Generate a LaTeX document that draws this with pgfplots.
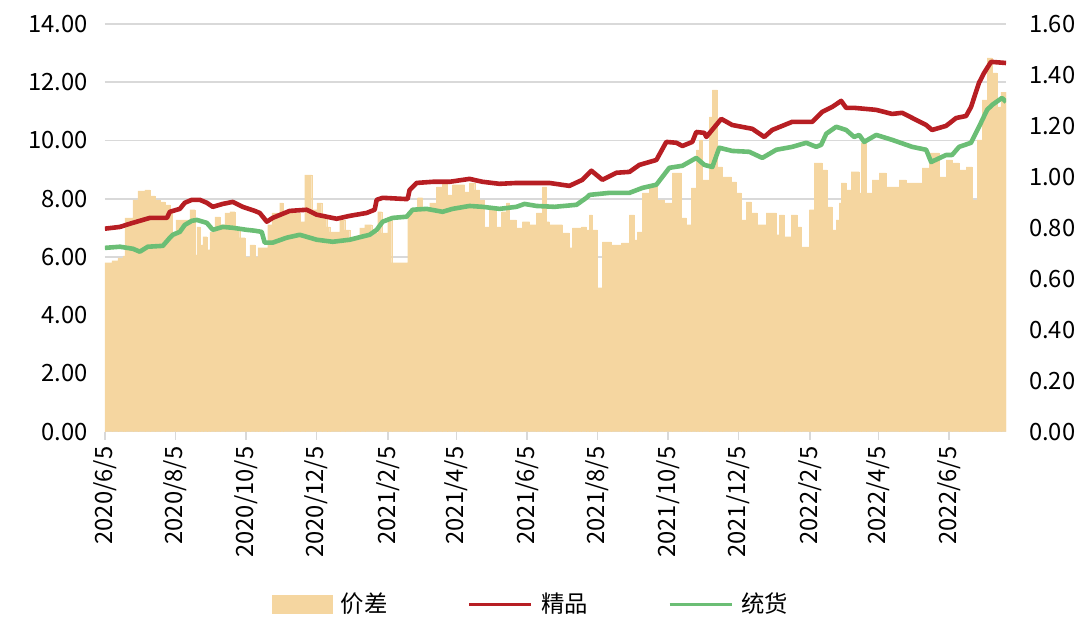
\documentclass[border=0pt]{standalone}
\usepackage{fontspec}
\setmainfont{Noto Sans CJK SC}
\usepackage{pgfplots}
\pgfplotsset{compat=1.18}
\usepackage{pgfplotstable}
\definecolor{barcol}{RGB}{245,214,160}
\definecolor{redcol}{RGB}{183,30,35}
\definecolor{greencol}{RGB}{107,190,117}
\definecolor{gridgray}{RGB}{217,217,217}

\pgfplotstableread{
x y
0 6.97
13.0 7.03
21.6 7.14
32.8 7.27
38.9 7.34
53.6 7.34
56.2 7.55
64.8 7.65
69.1 7.86
75.2 7.96
82.1 7.96
88.1 7.86
93.3 7.72
101.9 7.82
110.6 7.89
119.2 7.72
129.6 7.58
133.9 7.51
140.0 7.21
145.1 7.34
159.8 7.58
174.5 7.62
183.2 7.45
200.4 7.31
211.7 7.41
226.3 7.51
233.3 7.62
235.0 7.96
240.2 8.03
259.2 7.99
261.8 7.99
263.5 8.30
269.5 8.54
283.4 8.58
298.1 8.58
315.3 8.68
326.6 8.58
341.3 8.51
355.9 8.54
369.8 8.54
384.4 8.54
401.7 8.44
413.0 8.65
420.7 8.96
430.2 8.65
442.3 8.89
453.6 8.92
462.2 9.16
476.9 9.33
485.5 9.95
494.2 9.92
499.4 9.81
508.0 9.95
511.4 10.29
518.4 10.26
520.1 10.12
533.0 10.74
542.5 10.53
559.8 10.40
570.2 10.12
577.1 10.36
594.4 10.64
611.7 10.64
620.3 10.98
628.9 11.15
636.7 11.36
641.0 11.12
647.9 11.12
667.0 11.05
680.8 10.91
689.4 10.95
710.2 10.53
715.3 10.36
727.4 10.50
736.1 10.77
744.7 10.84
749.0 11.15
755.9 11.98
760.3 12.32
766.3 12.70
779.3 12.66
}\jingpin

\pgfplotstableread{
x y
0 6.31
13.0 6.35
24.2 6.28
30.2 6.18
37.1 6.35
50.1 6.38
56.2 6.66
58.7 6.76
64.8 6.86
69.1 7.10
75.2 7.24
79.5 7.27
88.1 7.17
93.3 6.93
101.9 7.03
110.6 7.00
122.7 6.93
129.6 6.90
135.6 6.86
138.2 6.49
145.1 6.49
157.2 6.66
168.5 6.76
183.2 6.59
197.0 6.52
211.7 6.59
228.9 6.76
235.0 6.93
240.2 7.21
248.8 7.34
260.9 7.38
266.1 7.62
278.2 7.65
292.0 7.55
300.6 7.65
315.3 7.75
326.6 7.72
341.3 7.65
355.9 7.72
362.9 7.82
373.2 7.75
388.8 7.72
407.8 7.79
416.4 8.03
419.0 8.13
436.3 8.20
453.6 8.20
464.8 8.37
476.9 8.48
482.1 8.75
488.1 9.06
499.4 9.13
511.4 9.40
518.4 9.16
525.3 9.09
531.3 9.75
542.5 9.64
557.2 9.61
568.5 9.40
580.6 9.68
594.4 9.78
606.5 9.92
615.1 9.78
619.4 9.85
623.8 10.23
632.4 10.47
641.0 10.36
647.9 10.12
652.3 10.19
656.6 9.95
667.0 10.19
680.8 10.02
698.1 9.78
710.2 9.68
714.5 9.26
727.4 9.50
732.6 9.50
738.7 9.78
749.0 9.92
755.9 10.47
762.9 11.05
767.2 11.22
775.8 11.46
779.3 11.32
}\tonghuo

\pgfplotstableread{
x y
0 0.663
6.0 0.671
11.2 0.682
15.6 0.690
17.3 0.839
24.2 0.910
28.5 0.945
34.6 0.949
38.9 0.925
43.2 0.910
47.5 0.902
51.8 0.890
56.2 0.871
57.9 0.784
61.3 0.831
73.4 0.871
77.8 0.694
79.5 0.804
82.1 0.733
84.7 0.765
88.1 0.714
90.7 0.784
95.0 0.843
99.4 0.812
103.7 0.859
108.0 0.863
112.3 0.792
116.6 0.761
121.0 0.686
125.3 0.733
129.6 0.686
132.2 0.722
140.8 0.812
144.3 0.859
151.2 0.898
153.8 0.863
159.8 0.859
168.5 0.824
172.8 1.008
178.8 0.871
183.2 0.898
187.5 0.843
191.8 0.804
194.4 0.784
203.0 0.831
207.3 0.792
211.7 0.753
220.3 0.800
224.6 0.812
230.7 0.780
235.9 0.863
239.3 0.780
244.5 0.843
248.0 0.663
261.8 0.863
270.4 0.918
274.7 0.871
280.8 0.898
286.8 0.961
292.0 0.980
296.3 0.929
300.6 0.969
311.0 0.941
315.3 0.976
319.7 0.949
324.0 0.910
328.3 0.804
332.6 0.871
338.7 0.804
343.0 0.863
347.3 0.898
349.9 0.831
355.9 0.800
361.1 0.824
367.2 0.812
373.2 0.859
378.4 0.961
381.9 0.824
384.4 0.812
395.7 0.780
401.7 0.722
404.3 0.800
412.1 0.804
416.4 0.792
419.0 0.851
421.6 0.792
425.9 0.565
430.2 0.745
438.0 0.733
446.7 0.741
453.6 0.851
457.9 0.753
460.5 0.784
464.8 0.937
470.8 0.969
477.8 0.910
483.8 0.898
490.7 1.016
498.5 0.839
502.8 0.812
507.1 0.957
511.4 1.106
514.0 1.145
516.6 0.988
522.7 1.235
525.3 1.341
529.6 1.039
533.9 1.000
541.7 0.980
546.0 0.937
550.3 0.831
554.6 0.902
559.0 0.859
564.2 0.812
571.9 0.859
580.6 0.773
583.2 0.851
587.5 0.765
593.5 0.851
598.7 0.804
602.2 0.725
609.1 0.871
613.4 1.055
620.3 1.027
624.6 0.882
628.9 0.792
632.4 0.831
635.0 0.898
636.7 0.976
641.0 0.949
645.4 1.020
652.3 0.937
654.0 1.133
658.3 0.937
663.5 0.988
669.5 1.016
675.6 0.961
686.8 0.988
692.9 0.976
706.7 1.035
712.7 1.094
721.4 1.000
727.4 1.067
732.6 1.055
738.7 1.027
744.7 1.039
749.9 0.910
754.2 1.145
758.5 1.302
762.9 1.467
767.2 1.408
771.5 1.275
774.9 1.333
779.3 1.333
}\jiacha

\pgfplotsset{
  every axis/.append style={
    scale only axis, width=451pt, height=204pt,
    xmin=0, xmax=779.3,
    tick label style={font=\fontsize{11.9}{13.5}\selectfont},
    /pgf/number format/assume math mode=true,
  },
}

\begin{document}
\begin{tikzpicture}
% base axis: left scale, grid
\begin{axis}[
  ymin=0, ymax=14,
  hide x axis,
  axis y line*=left,
  y axis line style={draw=none},
  ytick={0,2,4,6,8,10,12,14},
  ytick style={draw=none},
  ymajorgrids,
  grid style={draw=gridgray, line width=0.85pt},
  yticklabel style={xshift=-5pt, /pgf/number format/.cd, fixed, fixed zerofill, precision=2},
]
\addplot[draw=none, forget plot] coordinates {(0,0)};
\end{axis}
% bar axis: right scale
\begin{axis}[
  ymin=0, ymax=1.6,
  axis y line*=right,
  axis x line*=bottom,
  y axis line style={draw=none},
  x axis line style={-, draw=gridgray, line width=0.85pt},
  ytick={0,0.2,0.4,0.6,0.8,1.0,1.2,1.4,1.6},
  ytick style={draw=none},
  yticklabel style={xshift=4pt, /pgf/number format/.cd, fixed, fixed zerofill, precision=2},
  xtick={0,61,122,183,245,304,365,426,487,548,610,669,730},
  xticklabels={2020/6/5,2020/8/5,2020/10/5,2020/12/5,2021/2/5,2021/4/5,2021/6/5,2021/8/5,2021/10/5,2021/12/5,2022/2/5,2022/4/5,2022/6/5},
  xticklabel style={rotate=90, anchor=east},
  tick align=outside,
  xtick style={draw=gridgray, line width=0.85pt},
  major tick length=4pt,
]
\addplot[ybar interval, fill=barcol, draw=barcol, line width=0.1pt] table[x=x,y=y] {\jiacha};
\end{axis}
% line axis: left scale
\begin{axis}[
  ymin=0, ymax=14,
  hide axis,
  legend columns=3,
  legend style={at={(0.474,-0.424)}, anchor=center, draw=none, fill=none,
    font=\fontsize{11.7}{13}\selectfont,
    /tikz/every even column/.append style={column sep=38pt},
    /tikz/every odd column/.append style={column sep=2pt}},
]
\addlegendimage{legend image code/.code={\fill[barcol] (0pt,-4.5pt) rectangle (30pt,4.5pt);}}
\addlegendentry{价差}
\addplot[color=redcol, line width=2.3pt, line join=round,
  legend image code/.code={\draw[redcol, line width=1.9pt] (0pt,0pt) -- (31pt,0pt);}]
  table[x=x,y=y] {\jingpin};
\addlegendentry{精品}
\addplot[color=greencol, line width=2.3pt, line join=round,
  legend image code/.code={\draw[greencol, line width=1.9pt] (0pt,0pt) -- (31pt,0pt);}]
  table[x=x,y=y] {\tonghuo};
\addlegendentry{统货}
\end{axis}
\pgfresetboundingbox
\path[use as bounding box] (-52.5pt,-93pt) rectangle (487.5pt,216pt);
\end{tikzpicture}
\end{document}
